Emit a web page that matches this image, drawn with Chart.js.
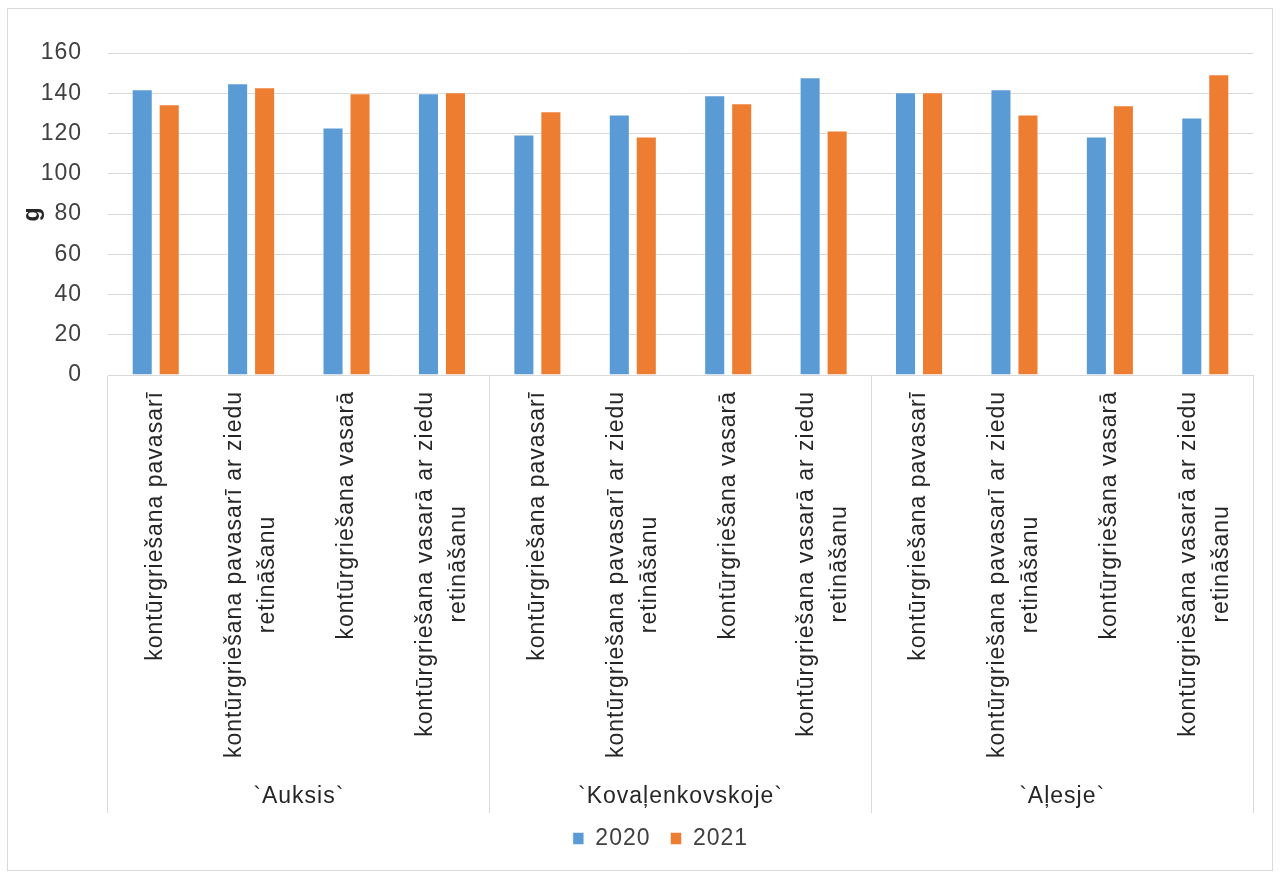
<!DOCTYPE html>
<html>
<head>
<meta charset="utf-8">
<script src="https://cdn.jsdelivr.net/npm/chart.js@4"></script>
<style>
  html, body { margin: 0; background: #fff; }
</style>
</head>
<body>
<canvas id="grafiks" width="1280" height="876"></canvas>
<script>
// dati
const kategorijas = [
  'kontūrgriešana pavasarī',
  ['kontūrgriešana pavasarī ar ziedu', 'retināšanu'],
  'kontūrgriešana vasarā',
  ['kontūrgriešana vasarā ar ziedu', 'retināšanu']
]
const skirnes = ['`Auksis`', '`Kovaļenkovskoje`', '`Aļesje`']
const gadi = ['2020', '2021']
const dati2020 = [142, 145, 123, 140, 119.5, 129.5, 139, 148, 140.5, 142, 118.5, 128]
const dati2021 = [134.5, 143, 140, 140.5, 131, 118.5, 135, 121.5, 140.5, 129.5, 134, 149.5]
const yMin = 0, yMax = 160, ySolis = 20

const labels = skirnes.flatMap(() => kategorijas)

Chart.defaults.font.family = '"Liberation Sans", Arial, sans-serif'
Chart.defaults.color = '#404040'

// x ass uzraksti (pagriezti, rindas centrētas) + šķirņu nosaukumi + rāmis
const asuUzraksti = {
  id: 'asuUzraksti',
  beforeUpdate(chart) {
    chart.ctx.letterSpacing = '1px'
  },
  afterLayout(chart) {
    // leģenda centrēta zem zīmējuma laukuma
    chart.legend.left = 68
  },
  beforeDraw(chart) {
    const ctx = chart.ctx
    ctx.letterSpacing = '1px'
    ctx.save()
    ctx.strokeStyle = '#d9d9d9'
    ctx.lineWidth = 1
    ctx.strokeRect(7.5, 8.5, 1265, 862)
    ctx.restore()
  },
  afterDraw(chart) {
    const ctx = chart.ctx
    const x = chart.scales.x
    const lh = 33
    ctx.save()
    ctx.fillStyle = '#262626'
    ctx.font = '23px "Liberation Sans", Arial, sans-serif'
    ctx.letterSpacing = '1px'
    chart.data.labels.forEach((lab, i) => {
      const rindas = Array.isArray(lab) ? lab : [lab]
      const w = Math.max(...rindas.map(r => ctx.measureText(r).width))
      const px = x.getPixelForValue(i)
      ctx.save()
      ctx.translate(px, x.top + 16 + w / 2)
      ctx.rotate(-Math.PI / 2)
      ctx.textAlign = 'center'
      ctx.textBaseline = 'middle'
      rindas.forEach((r, j) => ctx.fillText(r, 0, (j - (rindas.length - 1) / 2) * lh))
      ctx.restore()
    })
    const n = kategorijas.length
    ctx.textAlign = 'center'
    ctx.textBaseline = 'middle'
    skirnes.forEach((s, g) => {
      const a = x.getPixelForValue(g * n)
      const b = x.getPixelForValue(g * n + n - 1)
      ctx.fillText(s, (a + b) / 2, 797)
    })
    ctx.restore()
  }
}

const data = {
  labels,
  datasets: [{
    label: gadi[0],
    data: dati2020,
    backgroundColor: '#5b9bd5',
    borderColor: 'rgba(255,255,255,0.5)',
    borderWidth: 1
  }, {
    label: gadi[1],
    data: dati2021,
    backgroundColor: '#ed7d31',
    borderColor: 'rgba(255,255,255,0.5)',
    borderWidth: 1
  }]
}

const config = {
  type: 'bar',
  data,
  options: {
    responsive: false,
    animation: false,
    categoryPercentage: 0.566,
    barPercentage: 0.78,
    layout: { padding: { left: 8, right: 27, top: 53, bottom: 16 } },
    plugins: {
      legend: {
        position: 'bottom',
        labels: { boxWidth: 11, boxHeight: 12, padding: 20, color: '#404040', font: { size: 23 } }
      },
      tooltip: { enabled: false }
    },
    scales: {
      x: {
        grid: {
          offset: true,
          drawOnChartArea: false,
          drawTicks: true,
          tickLength: 438,
          color: c => (c.index === undefined || c.index % 4 === 0) ? '#d9d9d9' : 'rgba(0,0,0,0)'
        },
        border: { color: '#d9d9d9' },
        ticks: { display: false },
        afterFit: s => { s.height = 432 }
      },
      y: {
        min: yMin,
        max: yMax,
        ticks: { stepSize: ySolis, color: '#404040', font: { size: 23 }, padding: 26 },
        grid: { color: '#d9d9d9', drawTicks: false },
        border: { display: false },
        title: { display: true, text: 'g', color: '#262626', font: { size: 23, weight: 'bold' }, padding: { top: 11, bottom: 0 } },
        afterFit: s => { s.width = 100 }
      }
    }
  },
  plugins: [asuUzraksti]
}

const grafiks = new Chart(document.getElementById('grafiks'), config)
</script>
</body>
</html>
